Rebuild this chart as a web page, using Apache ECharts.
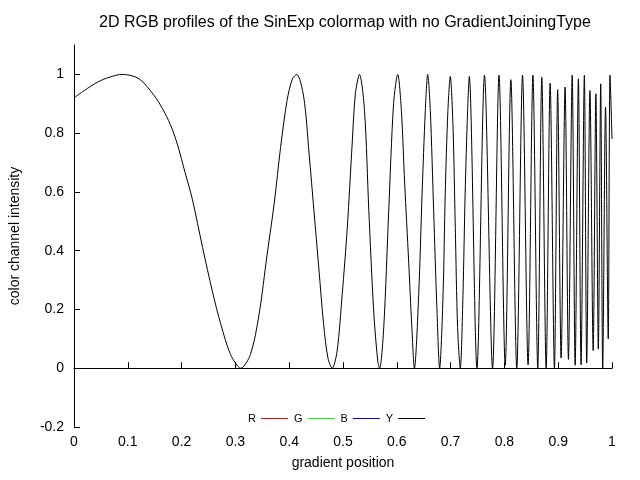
<!DOCTYPE html>
<html>
<head>
<meta charset="utf-8">
<script src="https://cdn.jsdelivr.net/npm/echarts@6/dist/echarts.min.js"></script>
<style>html,body{margin:0;padding:0;background:#fff;}#chart{width:640px;height:480px;}</style>
</head>
<body>
<div id="chart"></div>
<script>
// gradient position (x)
var gradientPos = [
  0, 0.019, 0.044, 0.065, 0.090, 0.121, 0.149, 0.164, 0.179, 0.192, 0.2066,
  0.220, 0.239, 0.257, 0.273, 0.291, 0.310, 0.328, 0.344, 0.359, 0.372, 0.384,
  0.396, 0.406, 0.414, 0.427, 0.437, 0.446, 0.455, 0.464, 0.472, 0.480, 0.489,
  0.4985, 0.508, 0.517, 0.523, 0.5306, 0.540, 0.548, 0.557, 0.5646, 0.568,
  0.5757, 0.585, 0.594, 0.6017, 0.6085, 0.6147, 0.622, 0.628, 0.6327, 0.6407,
  0.647, 0.653, 0.6574, 0.6623, 0.6685, 0.6747, 0.6796, 0.686, 0.690, 0.695,
  0.6994, 0.7045, 0.7087, 0.713, 0.718, 0.723, 0.727, 0.7316, 0.7347,
  0.749, 0.763, 0.778, 0.790, 0.8015, 0.812, 0.823, 0.8337, 0.844, 0.853,
  0.862, 0.8695, 0.8776, 0.885, 0.893, 0.899, 0.9054, 0.9128, 0.919, 0.926,
  0.9315, 0.9375, 0.9425, 0.9486, 0.953, 0.959, 0.965, 0.970, 0.9746, 0.979,
  0.9827, 0.988, 0.993, 0.9963, 1.0
];
// channel intensity (y)
var channelValue = [
  0.92, 0.945, 0.974, 0.99, 1.0, 0.985, 0.928, 0.885, 0.83, 0.763, 0.665,
  0.575, 0.411, 0.263, 0.149, 0.047, 0.0, 0.047, 0.183, 0.388, 0.559, 0.752,
  0.911, 0.985, 1.0, 0.923, 0.729, 0.536, 0.342, 0.149, 0.035, 0.0, 0.058,
  0.251, 0.479, 0.763, 0.934, 1.0, 0.877, 0.536, 0.195, 0.024, 0.0,
  0.138, 0.536, 0.9, 1.0, 0.877, 0.627, 0.365, 0.138, 0.0, 0.251,
  0.593, 0.877, 1.0, 0.877, 0.536, 0.195, 0.0, 0.251, 0.593, 0.877,
  0.993, 0.82, 0.479, 0.138, 0.0, 0.251, 0.593, 0.877, 0.993,
  0.0, 0.997, 0.0, 0.997, 0.01, 0.982, 0.0, 0.997, 0.012, 0.997,
  0.0, 0.99, 0.0, 0.97, 0.0, 0.948, 0.035, 0.957, 0.03, 0.997,
  0.01, 0.985, 0.012, 0.997, 0.018, 0.945, 0.06, 0.934, 0.065, 0.968,
  0.0, 0.888, 0.1, 0.997, 0.78
];
var seriesNames = ['R', 'G', 'B', 'Y'];
var seriesColors = ['#ff0000', '#00ff00', '#0000ff', '#000000'];
var xTicks = [0, 0.1, 0.2, 0.3, 0.4, 0.5, 0.6, 0.7, 0.8, 0.9, 1];
var yTicks = [-0.2, 0, 0.2, 0.4, 0.6, 0.8, 1];

var pts = gradientPos.map(function (x, i) { return [x, channelValue[i]]; });

var chart = echarts.init(document.getElementById('chart'), null, {renderer: 'canvas'});
var font = 'Liberation Sans, Arial, sans-serif';
chart.setOption({
  animation: false,
  backgroundColor: '#ffffff',
  title: {
    text: '2D RGB profiles of the SinExp colormap with no GradientJoiningType',
    left: 340, top: 10, textAlign: 'center',
    textStyle: {fontFamily: font, fontSize: 16, fontWeight: 'normal', color: '#000'}
  },
  legend: {
    data: seriesNames.map(function (n, i) {
      return {name: n, icon: 'rect', itemStyle: {color: seriesColors[i], opacity: 1, borderWidth: 0}};
    }),
    left: 243, top: 408,
    align: 'right',
    itemWidth: 27, itemHeight: 1, itemGap: 6,
    textStyle: {fontFamily: font, fontSize: 11, color: '#000'}
  },
  grid: {left: 73, right: 28, top: 45, bottom: 53, containLabel: false},
  xAxis: {
    type: 'value', min: 0, max: 1, interval: 0.1,
    name: 'gradient position', nameLocation: 'middle', nameGap: 29,
    nameTextStyle: {fontFamily: font, fontSize: 14, color: '#000'},
    axisLine: {lineStyle: {color: '#000', width: 1}},
    axisTick: {inside: true, length: 6, lineStyle: {color: '#000'}},
    axisLabel: {fontFamily: font, fontSize: 14, color: '#000', margin: 8,
      customValues: xTicks},
    splitLine: {show: false}
  },
  yAxis: {
    type: 'value', min: -0.2, max: 1.1,
    name: 'color channel intensity', nameLocation: 'middle', nameGap: 52,
    nameRotate: 90,
    nameTextStyle: {fontFamily: font, fontSize: 14, color: '#000'},
    axisLine: {lineStyle: {color: '#000', width: 1}},
    axisTick: {inside: true, length: 6, lineStyle: {color: '#000'}, customValues: yTicks},
    axisLabel: {fontFamily: font, fontSize: 14, color: '#000', margin: 10,
      customValues: yTicks},
    splitLine: {show: false}
  },
  series: seriesNames.map(function (n, i) {
    return {
      name: n, type: 'line', data: pts, symbol: 'none', smooth: 0.3,
      color: seriesColors[i],
      lineStyle: {color: seriesColors[i], width: 1, opacity: i === 3 ? 1 : 0},
      z: 2 + i
    };
  })
});
</script>
</body>
</html>
